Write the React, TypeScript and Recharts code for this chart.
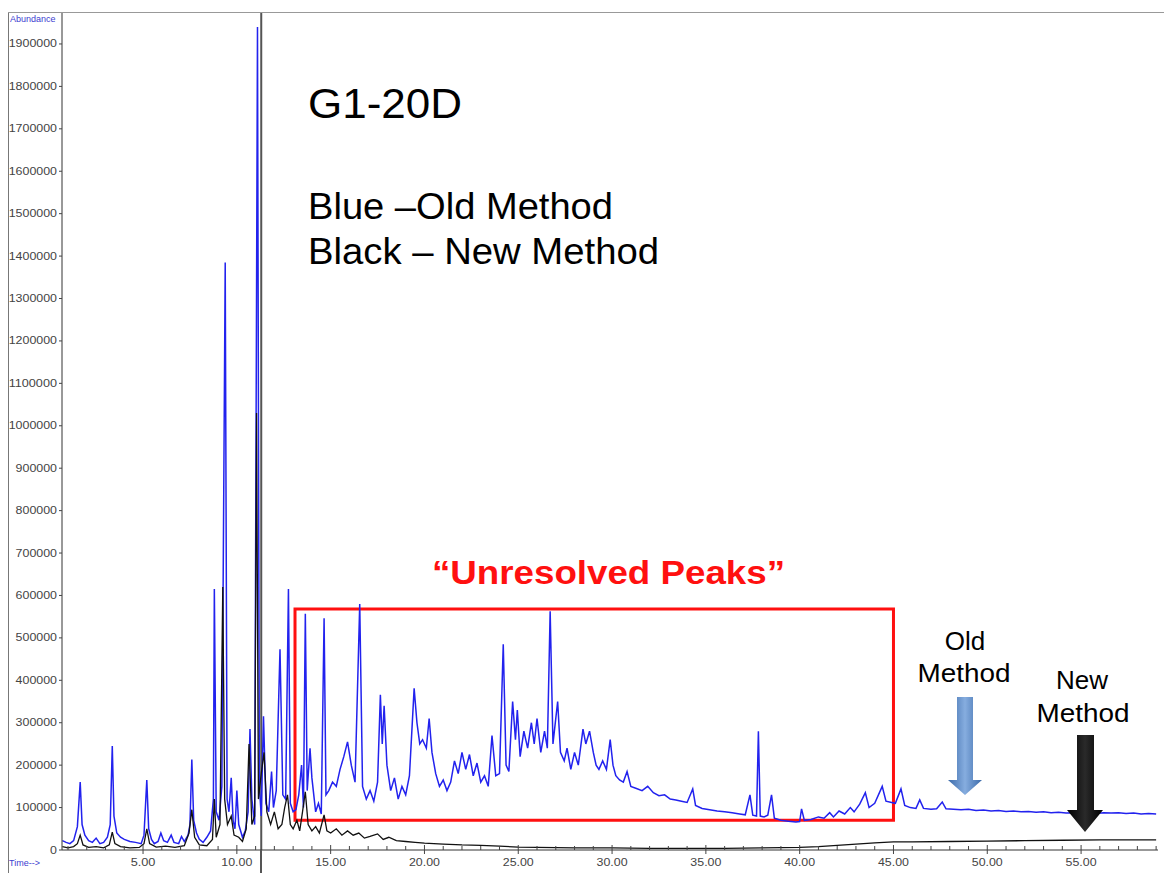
import { LineChart, Line, XAxis, YAxis, ReferenceArea, ReferenceLine } from "recharts";

// retention time (min) and abundance, old method (blue)
const oldTime = [
  0.7, 0.9, 1.1, 1.3, 1.5, 1.65, 1.75, 1.9, 2.1, 2.3, 2.5, 2.7, 2.9, 3.1, 3.25, 3.36, 3.45, 3.6, 3.8, 4.0,
  4.3, 4.6, 4.9, 5.05, 5.2, 5.3, 5.45, 5.6, 5.8, 5.95, 6.1, 6.3, 6.5, 6.65, 6.9, 7.05, 7.2, 7.4, 7.5, 7.6,
  7.7, 7.85, 8.0, 8.2, 8.4, 8.6, 8.75, 8.8, 8.9, 9.05, 9.2, 9.38, 9.48, 9.58, 9.7, 9.8, 9.9, 10.0, 10.1, 10.3,
  10.45, 10.6, 10.7, 10.8, 10.95, 11.1, 11.2, 11.3, 11.42, 11.55, 11.7, 11.85, 11.95, 12.1, 12.3, 12.45, 12.6, 12.75, 12.85, 13.0,
  13.15, 13.3, 13.45, 13.55, 13.65, 13.75, 13.9, 14.0, 14.2, 14.35, 14.5, 14.65, 14.75, 14.9, 15.1, 15.3, 15.5, 15.7, 15.9, 16.1,
  16.3, 16.55, 16.7, 16.9, 17.1, 17.3, 17.5, 17.65, 17.75, 17.85, 18.0, 18.2, 18.4, 18.6, 18.8, 19.0, 19.2, 19.45, 19.6, 19.75,
  19.9, 20.1, 20.25, 20.4, 20.6, 20.8, 21.0, 21.2, 21.4, 21.6, 21.8, 22.0, 22.2, 22.4, 22.6, 22.8, 23.0, 23.2, 23.4, 23.6,
  23.8, 24.0, 24.2, 24.35, 24.5, 24.7, 24.85, 24.95, 25.1, 25.3, 25.5, 25.7, 25.85, 26.0, 26.2, 26.4, 26.55, 26.7, 26.85, 27.1,
  27.25, 27.45, 27.6, 27.8, 28.0, 28.2, 28.45, 28.6, 28.8, 29.0, 29.15, 29.3, 29.5, 29.7, 29.9, 30.05, 30.2, 30.4, 30.6, 30.8,
  31.0, 31.3, 31.6, 31.9, 32.2, 32.5, 32.8, 33.1, 33.4, 33.7, 34.0, 34.3, 34.45, 34.8, 35.2, 35.6, 36.0, 36.4, 36.8, 37.1,
  37.35, 37.5, 37.7, 37.8, 37.9, 38.1, 38.3, 38.5, 38.65, 39.0, 39.4, 39.8, 40.0, 40.1, 40.25, 40.6, 41.0, 41.3, 41.6, 41.8,
  42.1, 42.4, 42.7, 42.9, 43.2, 43.5, 43.7, 44.0, 44.4, 44.6, 44.9, 45.1, 45.4, 45.6, 45.9, 46.2, 46.4, 46.6, 47.0, 47.3,
  47.6, 47.8, 48.2, 48.6, 49.0, 49.4, 49.8, 50.2, 50.6, 51.0, 51.4, 51.8, 52.2, 52.6, 53.0, 53.4, 53.8, 54.2, 54.6, 55.0,
  55.4, 55.8, 56.2, 56.6, 57.0, 57.4, 57.8, 58.2, 58.6, 59.0,
];
const oldAbund = [
  22000, 18000, 15000, 22000, 55000, 160000, 60000, 35000, 22000, 18000, 28000, 15000, 18000, 30000, 60000, 245000, 80000, 40000, 30000, 25000,
  20000, 18000, 15000, 35000, 165000, 50000, 25000, 15000, 20000, 40000, 22000, 18000, 35000, 18000, 15000, 32000, 20000, 35000, 60000, 213000,
  70000, 40000, 25000, 18000, 30000, 45000, 120000, 615000, 90000, 70000, 150000, 1385000, 120000, 90000, 170000, 70000, 50000, 140000, 60000, 30000,
  45000, 90000, 285000, 120000, 60000, 1940000, 150000, 80000, 315000, 110000, 90000, 185000, 100000, 140000, 473000, 130000, 120000, 615000, 110000, 90000,
  95000, 130000, 200000, 100000, 557000, 140000, 240000, 170000, 90000, 110000, 85000, 546000, 130000, 140000, 160000, 150000, 190000, 220000, 255000, 200000,
  160000, 580000, 150000, 120000, 140000, 115000, 160000, 366000, 250000, 340000, 200000, 140000, 170000, 120000, 150000, 130000, 175000, 381000, 300000, 250000,
  260000, 240000, 310000, 230000, 180000, 150000, 165000, 140000, 160000, 210000, 180000, 230000, 190000, 225000, 175000, 205000, 160000, 175000, 150000, 270000,
  175000, 180000, 485000, 200000, 185000, 350000, 260000, 330000, 220000, 280000, 240000, 300000, 250000, 310000, 230000, 280000, 240000, 563000, 250000, 350000,
  230000, 210000, 240000, 190000, 230000, 200000, 285000, 250000, 280000, 230000, 200000, 190000, 210000, 190000, 260000, 200000, 175000, 165000, 160000, 185000,
  150000, 145000, 140000, 150000, 135000, 128000, 130000, 120000, 118000, 115000, 112000, 144000, 105000, 98000, 95000, 92000, 90000, 88000, 85000, 83000,
  130000, 82000, 80000, 280000, 80000, 78000, 82000, 130000, 75000, 70000, 68000, 66000, 67000, 97000, 70000, 72000, 78000, 75000, 88000, 78000,
  92000, 85000, 100000, 90000, 108000, 135000, 100000, 110000, 150000, 115000, 112000, 110000, 144000, 105000, 100000, 98000, 118000, 98000, 96000, 97000,
  113000, 97000, 96000, 95000, 96000, 93000, 94000, 92000, 93000, 91000, 92000, 90000, 91000, 89000, 90000, 88000, 89000, 87000, 88000, 87000,
  89000, 86000, 88000, 87000, 88000, 86000, 87000, 85000, 86000, 85000,
];

// new method (black)
const newTime = [
  0.7, 1.0, 1.3, 1.5, 1.65, 1.8, 2.1, 2.5, 2.9, 3.2, 3.36, 3.5, 3.8, 4.3, 4.8, 5.05, 5.2, 5.35, 5.7, 6.2,
  6.7, 7.2, 7.45, 7.6, 7.75, 8.0, 8.4, 8.7, 8.8, 8.9, 9.1, 9.25, 9.35, 9.5, 9.7, 9.85, 10.1, 10.3, 10.5, 10.65,
  10.8, 10.95, 11.05, 11.15, 11.3, 11.45, 11.6, 11.8, 12.0, 12.2, 12.4, 12.55, 12.7, 12.85, 13.0, 13.2, 13.35, 13.5, 13.65, 13.8,
  14.0, 14.2, 14.4, 14.65, 14.8, 15.0, 15.3, 15.6, 15.9, 16.2, 16.5, 16.8, 17.1, 17.5, 17.8, 18.1, 18.5, 19.0, 19.5, 20.0,
  20.5, 21.0, 22.0, 23.0, 24.0, 25.0, 26.0, 28.0, 30.0, 32.0, 34.0, 36.0, 38.0, 40.0, 41.0, 42.0, 43.0, 44.0, 45.0, 46.0,
  48.0, 50.0, 52.0, 54.0, 56.0, 58.0, 59.0,
];
const newAbund = [
  8000, 5000, 8000, 15000, 35000, 12000, 6000, 8000, 5000, 12000, 42000, 15000, 8000, 5000, 6000, 15000, 50000, 15000, 7000, 9000,
  6000, 10000, 40000, 95000, 30000, 12000, 10000, 25000, 120000, 30000, 60000, 620000, 120000, 60000, 80000, 35000, 30000, 20000, 50000, 250000,
  60000, 80000, 1030000, 120000, 180000, 230000, 90000, 60000, 90000, 50000, 60000, 100000, 130000, 60000, 50000, 70000, 45000, 90000, 137000, 60000,
  45000, 55000, 40000, 83000, 45000, 40000, 50000, 35000, 45000, 35000, 40000, 28000, 32000, 38000, 25000, 30000, 22000, 20000, 18000, 16000,
  15000, 14000, 12000, 11000, 9000, 7000, 6000, 5000, 5000, 4000, 4000, 4000, 5000, 6000, 8000, 11000, 14000, 17000, 19000, 19000,
  20000, 21000, 22000, 23000, 24000, 24000, 24000,
];

const xTicks = [
  1, 2, 3, 4, 5, 6, 7, 8, 9, 10, 11, 12, 13, 14, 15, 16, 17, 18, 19, 20, 21, 22, 23, 24, 25, 26, 27, 28, 29, 30,
  31, 32, 33, 34, 35, 36, 37, 38, 39, 40, 41, 42, 43, 44, 45, 46, 47, 48, 49, 50, 51, 52, 53, 54, 55, 56, 57, 58, 59,
];
const yTicks = [
  0, 100000, 200000, 300000, 400000, 500000, 600000, 700000, 800000, 900000, 1000000, 1100000, 1200000, 1300000,
  1400000, 1500000, 1600000, 1700000, 1800000, 1900000,
];

const oldData = oldTime.map((t, i) => ({ t, v: oldAbund[i] }));
const newData = newTime.map((t, i) => ({ t, v: newAbund[i] }));

const font = "'Liberation Sans', Arial, sans-serif";

function TimeTick(props: any) {
  const { x, y, payload } = props;
  const major = payload.value % 5 === 0;
  const label = payload.value.toFixed(2);
  return (
    <g>
      <line x1={x} x2={x} y1={y - (major ? 5 : 4)} y2={y + (major ? 4 : 0)} stroke="#444" strokeWidth={1} />
      {major && (
        <text x={x} y={y + 16} textAnchor="middle" fontSize={10} fill="#444" fontFamily={font}
          textLength={label.length * 6.2} lengthAdjust="spacingAndGlyphs">
          {label}
        </text>
      )}
    </g>
  );
}

function AbundTick(props: any) {
  const { x, y, payload } = props;
  const label = String(payload.value);
  return (
    <text x={x} y={y + 3.5} textAnchor="end" fontSize={10} fill="#444" fontFamily={font}
      textLength={label.length * 6.9} lengthAdjust="spacingAndGlyphs">
      {label}
    </text>
  );
}

export default function App() {
  return (
    <div style={{ position: "absolute", left: 0, top: 0, width: 1164, height: 873, background: "#fff", overflow: "hidden" }}>
      <LineChart width={1164} height={873} margin={{ top: 13, right: 6, left: 0, bottom: 0 }}>
        <XAxis
          type="number"
          dataKey="t"
          domain={[0.68, 59.1]}
          allowDataOverflow
          ticks={xTicks}
          interval={0}
          height={23}
          tickSize={0}
          tickMargin={0}
          tick={<TimeTick />}
          axisLine={{ stroke: "#333" }}
        />
        <YAxis
          type="number"
          dataKey="v"
          domain={[0, 1973000]}
          ticks={yTicks}
          interval={0}
          width={62}
          tickSize={3}
          tickMargin={2}
          tick={<AbundTick />}
          axisLine={{ stroke: "#333" }}
          tickLine={{ stroke: "#444" }}
        />
        <ReferenceLine x={11.3} stroke="#555" strokeWidth={2} />
        <Line data={oldData} dataKey="v" type="linear" stroke="#2222ee" strokeWidth={1.5} dot={false} isAnimationActive={false} />
        <Line data={newData} dataKey="v" type="linear" stroke="#111" strokeWidth={1.3} dot={false} isAnimationActive={false} />
        <ReferenceArea x1={13.1} x2={45} y1={70000} y2={568000} stroke="#ff1010" strokeWidth={3} fill="none" fillOpacity={0} />
      </LineChart>

      <svg width={1164} height={873} style={{ position: "absolute", left: 0, top: 0, pointerEvents: "none" }}>
        <defs>
          <linearGradient id="blueArrow" x1="0" x2="1" y1="0" y2="0">
            <stop offset="0" stopColor="#3b6aaa" />
            <stop offset="0.5" stopColor="#86addf" />
            <stop offset="1" stopColor="#3b6aaa" />
          </linearGradient>
          <linearGradient id="blackArrow" x1="0" x2="1" y1="0" y2="0">
            <stop offset="0" stopColor="#000" />
            <stop offset="0.5" stopColor="#2a2a2a" />
            <stop offset="1" stopColor="#000" />
          </linearGradient>
        </defs>
        <line x1={8.5} x2={8.5} y1={12} y2={873} stroke="#777" />
        <line x1={8} x2={1164} y1={12.5} y2={12.5} stroke="#999" />
        <line x1={261} x2={261} y1={850} y2={873} stroke="#555" strokeWidth={2} />
        <text x={10} y={22} fontSize={9} fill="#4040d0" fontFamily={font}>Abundance</text>
        <text x={9} y={866} fontSize={9} fill="#4040d0" fontFamily={font}>Time--&gt;</text>

        <text x={308} y={118} fontSize={42} fill="#000" fontFamily={font} textLength={154} lengthAdjust="spacingAndGlyphs">G1-20D</text>
        <text x={308} y={219} fontSize={36} fill="#000" fontFamily={font} textLength={305} lengthAdjust="spacingAndGlyphs">Blue –Old Method</text>
        <text x={308} y={264} fontSize={36} fill="#000" fontFamily={font} textLength={351} lengthAdjust="spacingAndGlyphs">Black – New Method</text>
        <text x={432} y={584} fontSize={34} fontWeight="bold" fill="#ff1010" fontFamily={font} textLength={353} lengthAdjust="spacingAndGlyphs">“Unresolved Peaks”</text>

        <text x={965} y={650} fontSize={26} textAnchor="middle" fill="#000" fontFamily={font}>Old</text>
        <text x={964} y={682} fontSize={26} textAnchor="middle" fill="#000" fontFamily={font} textLength={93} lengthAdjust="spacingAndGlyphs">Method</text>
        <text x={1082} y={689} fontSize={26} textAnchor="middle" fill="#000" fontFamily={font}>New</text>
        <text x={1083} y={722} fontSize={26} textAnchor="middle" fill="#000" fontFamily={font} textLength={93} lengthAdjust="spacingAndGlyphs">Method</text>

        <polygon points="957,697 973,697 973,780 982,780 965,795 948,780 957,780" fill="url(#blueArrow)" />
        <polygon points="1077,735 1094,735 1094,810 1103,810 1085,832 1067,810 1077,810" fill="url(#blackArrow)" />
      </svg>
    </div>
  );
}
